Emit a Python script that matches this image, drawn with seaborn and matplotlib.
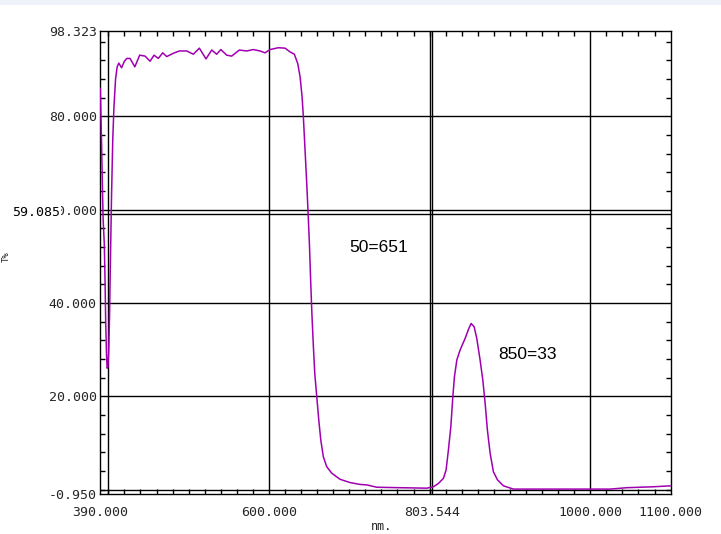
import matplotlib
matplotlib.use("Agg")
import matplotlib.pyplot as plt
import seaborn as sns
import pandas as pd
import numpy as np
from matplotlib.patches import Rectangle
from matplotlib.ticker import FixedLocator, MultipleLocator

# ---- data ----
wavelength = [390, 391.5, 392.5, 393.5, 395, 396, 396.7, 397.7, 398.5, 399.5,
              400.5, 401.5, 402.5, 404, 405.5, 407, 409, 411, 413, 416.5,
              420, 423, 427, 429, 433, 439, 445.7, 452, 456.9, 462.2,
              467.7, 472.7, 480.9, 488.4, 497.6, 505.8, 513.3, 521.6, 528.7, 534.9,
              540, 547.4, 553.6, 563.1, 572.3, 580.5, 588.9, 595.1, 601.3, 611.7,
              620, 626.2, 631.6, 635.8, 638.7, 641.2, 642.8, 644.9, 647, 648.7,
              650.3, 652, 653.6, 655.3, 657, 659.5, 662, 664.5, 667.7, 671.9,
              678.2, 688.5, 701, 713.4, 721.7, 734.2, 763.2, 796.5, 804.7, 810.9,
              817.2, 820.5, 823.4, 826.4, 828.9, 830.9, 833.9, 837.9, 844.2, 848.3,
              851.6, 855.4, 858.7, 862.8, 866.2, 869.1, 871.9, 875.3, 879.4, 884.4,
              891.9, 904.3, 962.5, 1024.7, 1045.5, 1078.6, 1100]
transmittance = [86, 75, 66, 58, 52.5, 44, 36, 29, 26, 26.3,
                 30, 37, 48, 63, 75, 82, 88, 90.6, 91.4, 90.4,
                 91.8, 92.4, 92.4, 91.8, 90.6, 93.1, 92.9, 91.8, 93.1, 92.4,
                 93.6, 92.8, 93.5, 94.0, 94.0, 93.3, 94.6, 92.3, 94.2, 93.3,
                 94.3, 93.1, 92.9, 94.2, 94.0, 94.3, 94.0, 93.6, 94.3, 94.7,
                 94.6, 93.8, 93.3, 91.3, 88.5, 84.2, 79.9, 72.8, 65.6, 59.3,
                 52.8, 44.2, 37.0, 30.6, 24.9, 19.9, 14.9, 10.6, 7.0, 4.9,
                 3.5, 2.2, 1.5, 1.1, 1.0, 0.5, 0.4, 0.3, 0.6, 1.3,
                 2.4, 4.2, 8.5, 13.5, 19.9, 24.2, 27.8, 29.9, 32.4, 34.3,
                 35.6, 34.9, 32.4, 27.8, 23.5, 18.5, 12.8, 7.8, 3.8, 2.1,
                 0.8, 0.1, 0.1, 0.1, 0.4, 0.6, 0.8]

x_tick_values = [390.0, 600.0, 803.544, 1000.0, 1100.0]
x_tick_labels = ["390.000", "600.000", "803.544", "1000.000", "1100.000"]
y_tick_values = [98.323, 80.0, 60.0, 40.0, 20.0, -0.950]
y_tick_labels = ["98.323", "80.000", "60.000", "40.000", "20.000", "-0.950"]
x_grid = [400, 600, 800, 1000]
y_grid = [0, 20, 40, 60, 80]
cursor_x = 803.544
cursor_y = 59.085
annotations = [("50=651", 700.0, 51.0), ("850=33", 885.6, 27.9)]
x_range = (390.0, 1100.0)
y_range = (-0.950, 98.323)

df = pd.DataFrame({"nm": wavelength, "T": transmittance})

sns.set_style("white")
plt.rcParams["axes.unicode_minus"] = False

fig = plt.figure(figsize=(7.21, 5.34), dpi=100)
fig.patch.set_facecolor("white")
ax = fig.add_axes([100.3 / 721, 1 - 494 / 534, 570.3 / 721, 463.2 / 534])

for gx in x_grid:
    ax.axvline(gx, color="black", lw=1.0, zorder=1)
for gy in y_grid:
    ax.axhline(gy, color="black", lw=1.0, zorder=1)
ax.axvline(cursor_x, color="black", lw=1.0, zorder=1)
ax.axhline(cursor_y, color="black", lw=1.0, zorder=1)

sns.lineplot(data=df, x="nm", y="T", ax=ax, color="#a000b0", lw=1.1,
             zorder=3, legend=False)

ax.set_xlim(*x_range)
ax.set_ylim(*y_range)

mono = "DejaVu Sans Mono"
ax.xaxis.set_major_locator(FixedLocator(x_tick_values))
ax.set_xticklabels(x_tick_labels, fontfamily=mono, fontsize=9.5)
ax.yaxis.set_major_locator(FixedLocator(y_tick_values))
ax.set_yticklabels(y_tick_labels, fontfamily=mono, fontsize=9.5)
ax.xaxis.set_minor_locator(MultipleLocator(20))
ax.yaxis.set_minor_locator(MultipleLocator(4))
ax.tick_params(which="major", length=0, pad=9, axis="x")
ax.tick_params(which="major", length=0, pad=2.5, axis="y")
ax.tick_params(which="minor", direction="in", length=3.5, width=1.0,
               color="black", top=True, right=True, bottom=True, left=True)
for s in ax.spines.values():
    s.set_color("black")
    s.set_linewidth(1.0)

ax.set_xlabel("nm.", fontfamily=mono, fontsize=8.5)
ax.xaxis.set_label_coords((382 - 100.3) / 570.3, (494 - 526.5) / 463.2)
ax.xaxis.label.set_va("center")
ax.set_ylabel("T%", fontfamily=mono, fontsize=6.5)
ax.yaxis.set_label_coords((6 - 100.3) / 570.3, (494 - 257) / 463.2)
ax.yaxis.label.set_va("center")

for txt, tx, ty in annotations:
    ax.text(tx, ty, txt, ha="left", va="baseline", fontsize=12.5,
            family="Liberation Sans", color="black", zorder=4)

fig.text(60 / 721, 1 - 213 / 534, f"{cursor_y:.3f}", ha="right", va="center",
         fontfamily=mono, fontsize=9.5, color="black",
         bbox=dict(facecolor="white", edgecolor="none", pad=1.0), zorder=5)

fig.add_artist(Rectangle((0, 1 - 4.5 / 534), 1, 4.5 / 534, transform=fig.transFigure,
                         facecolor="#eef3fa", edgecolor="none", zorder=0))

fig.savefig("out.png", dpi=100)
